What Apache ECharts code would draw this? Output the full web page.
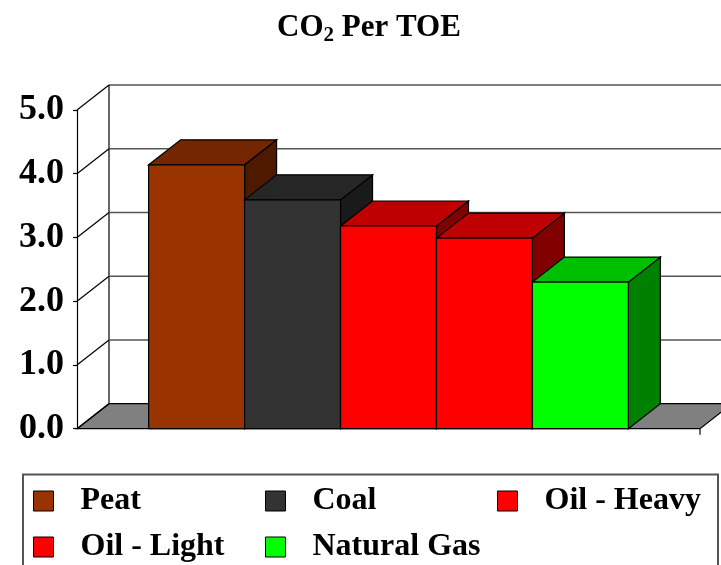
<!DOCTYPE html>
<html>
<head>
<meta charset="utf-8">
<title>CO2 Per TOE</title>
<script src="https://cdn.jsdelivr.net/npm/echarts@6/dist/echarts.min.js"></script>
<style>
  html, body { margin: 0; padding: 0; background: #ffffff; }
  #chart { width: 721px; height: 565px; }
</style>
</head>
<body>
<div id="chart"></div>
<script>
// Fuel types and tonnes of CO2 emitted per tonne of oil equivalent
const categories = ['Peat', 'Coal', 'Oil - Heavy', 'Oil - Light', 'Natural Gas'];
const values = [4.14, 3.59, 3.18, 2.99, 2.30];
const yTicks = [0, 1, 2, 3, 4, 5];

// Face shading for each block: front, top (darker), side (darkest)
const frontColors = ['#993300', '#333333', '#ff0000', '#ff0000', '#00ff00'];
const topColors = ['#732600', '#262626', '#bf0000', '#bf0000', '#00bf00'];
const sideColors = ['#4d1a00', '#1a1a1a', '#800000', '#800000', '#008000'];

// Oblique projection of the depth axis
const DX = 32;
const DY = -25;
const GROUP_RATIO = 0.77;
const FONT = '"Liberation Serif", "Times New Roman", serif';

const chart = echarts.init(document.getElementById('chart'), null, { renderer: 'canvas' });

// Walls, floor and gridlines, one item per y tick
function frameRenderer(params, api) {
  const v = api.value(0);
  const cs = params.coordSys;
  const left = cs.x;
  const right = cs.x + cs.width;
  const y = api.coord([0, v])[1];
  const yb = y + DY;
  const children = [];
  if (v === 0) {
    const yTop = api.coord([0, yTicks[yTicks.length - 1]])[1] + DY;
    children.push({
      type: 'polygon',
      shape: { points: [[left, y], [left + DX, yb], [right + DX, yb], [right, y]] },
      style: { fill: '#808080', stroke: '#000', lineWidth: 1.2 }
    });
    children.push({
      type: 'line',
      shape: { x1: left + DX, y1: yb, x2: left + DX, y2: yTop },
      style: { stroke: '#000', lineWidth: 1.2 }
    });
    children.push({
      type: 'line',
      shape: { x1: right, y1: y, x2: right, y2: y + 6 },
      style: { stroke: '#000', lineWidth: 1.2 }
    });
  } else {
    const last = v === yTicks[yTicks.length - 1];
    children.push({
      type: 'line',
      shape: { x1: left + DX, y1: yb, x2: right + DX + 40, y2: yb },
      style: { stroke: last ? '#000' : '#555', lineWidth: last ? 1.2 : 1.6 }
    });
  }
  children.push({
    type: 'line',
    shape: { x1: left, y1: y, x2: left + DX, y2: yb },
    style: { stroke: '#000', lineWidth: 1.2 }
  });
  return { type: 'group', children: children };
}

// One shaded block per fuel, placed side by side in the single category band
function barRenderer(i) {
  return function (params, api) {
    const v = api.value(1);
    const top = api.coord([api.value(0), v]);
    const base = api.coord([api.value(0), 0]);
    const band = api.size([1, 0])[0];
    const groupW = band * GROUP_RATIO;
    const w = groupW / categories.length;
    const x0 = top[0] - groupW / 2 + i * w;
    const x1 = x0 + w;
    const yT = top[1];
    const yB = base[1];
    return {
      type: 'group',
      children: [
        {
          type: 'polygon',
          shape: { points: [[x1, yB], [x1 + DX, yB + DY], [x1 + DX, yT + DY], [x1, yT]] },
          style: { fill: sideColors[i], stroke: '#000', lineWidth: 1.2 }
        },
        {
          type: 'polygon',
          shape: { points: [[x0, yT], [x0 + DX, yT + DY], [x1 + DX, yT + DY], [x1, yT]] },
          style: { fill: topColors[i], stroke: '#000', lineWidth: 1.2 }
        },
        {
          type: 'rect',
          shape: { x: x0, y: yT, width: w, height: yB - yT },
          style: { fill: frontColors[i], stroke: '#000', lineWidth: 1.2 }
        }
      ]
    };
  };
}

const legendCommon = {
  orient: 'vertical',
  padding: 0,
  itemWidth: 20,
  itemHeight: 20,
  itemGap: 14,
  icon: 'rect',
  selectedMode: false,
  textStyle: {
    fontFamily: FONT,
    fontWeight: 'bold',
    fontSize: 32,
    lineHeight: 32,
    color: '#000',
    padding: [0, 0, 0, 22]
  }
};

function legendItems(names) {
  return names.map(function (n) {
    const i = categories.indexOf(n);
    return { name: n, itemStyle: { color: frontColors[i], borderColor: '#000', borderWidth: 1 } };
  });
}

const series = [{
  type: 'custom',
  name: 'frame',
  renderItem: frameRenderer,
  data: yTicks.map(function (t) { return [t]; }),
  encode: { y: 0 },
  silent: true,
  z: 1
}];

categories.forEach(function (name, i) {
  series.push({
    type: 'custom',
    name: name,
    renderItem: barRenderer(i),
    data: [[0, values[i]]],
    encode: { x: 0, y: 1 },
    itemStyle: { color: frontColors[i], borderColor: '#000', borderWidth: 1 },
    z: 3 + i
  });
});

chart.setOption({
  animation: false,
  backgroundColor: '#ffffff',
  title: {
    text: '{a|CO}{s|2}{a| Per TOE}',
    left: 277,
    top: 10,
    padding: 0,
    textStyle: {
      rich: {
        a: { fontFamily: FONT, fontWeight: 'bold', fontSize: 31, lineHeight: 36, color: '#000' },
        s: { fontFamily: FONT, fontWeight: 'bold', fontSize: 21, lineHeight: 18, color: '#000', verticalAlign: 'bottom' }
      }
    }
  },
  grid: { left: 77, right: 21, top: 110, bottom: 136.3 },
  xAxis: {
    type: 'category',
    data: [''],
    axisLine: { show: false },
    axisTick: { show: false },
    axisLabel: { show: false },
    splitLine: { show: false }
  },
  yAxis: {
    type: 'value',
    min: 0,
    max: 5,
    interval: 1,
    axisLine: { show: true, lineStyle: { color: '#000', width: 1.2 } },
    axisTick: { show: true, length: 4, lineStyle: { color: '#000', width: 1.2 } },
    axisLabel: {
      margin: 13,
      fontFamily: FONT,
      fontWeight: 'bold',
      fontSize: 36,
      color: '#000',
      formatter: function (v) { return v.toFixed(1); }
    },
    splitLine: { show: false }
  },
  legend: [
    Object.assign({ left: 33, top: 485, data: legendItems(['Peat', 'Oil - Light']) }, legendCommon),
    Object.assign({ left: 265, top: 485, data: legendItems(['Coal', 'Natural Gas']) }, legendCommon),
    Object.assign({ left: 497, top: 485, data: legendItems(['Oil - Heavy']) }, legendCommon)
  ],
  graphic: [{
    type: 'rect',
    shape: { x: 23, y: 474.5, width: 695, height: 110 },
    style: { fill: 'none', stroke: '#555', lineWidth: 2 },
    silent: true,
    z: 0
  }],
  series: series
});
</script>
</body>
</html>
